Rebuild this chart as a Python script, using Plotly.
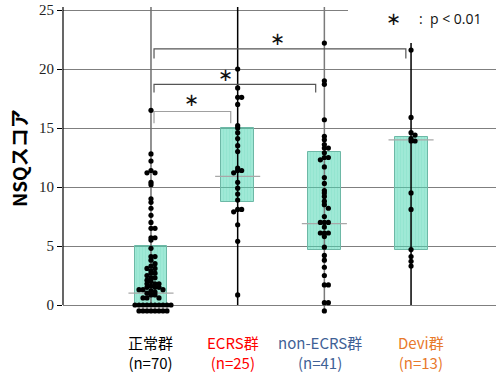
import plotly.graph_objects as go

# ---------------- data ----------------
categories = ["正常群", "ECRS群", "non-ECRS群", "Devi群"]
n_labels = ["(n=70)", "(n=25)", "(n=41)", "(n=13)"]
label_colors = ["#000000", "#FF0000", "#3F6196", "#E8792B"]

normal_vals = [16.5, 12.8, 12.2, 11.4, 11.2, 11.2, 10.4, 10.2, 9.0, 8.7, 8.2, 7.6, 7.0,
               6.5, 6.5, 5.7, 5.7, 5.5, 4.8, 4.1, 4.1, 3.8, 3.5, 3.3, 3.1, 3.1, 2.9, 2.7,
               2.7, 2.5, 2.3, 2.3, 2.0, 1.8, 1.8, 1.8, 1.6, 1.5, 1.5, 1.5, 1.3, 1.3, 1.3,
               1.1, 1.0, 0.85, 0.85, 0.6, 0.6, 0.6, 2.1, 1.2,
               0.0, 0.0, 0.0, 0.0, 0.0, 0.0, 0.0, 0.0, 0.0, 0.0,
               -0.5, -0.5, -0.5, -0.5, -0.5, -0.5, -0.5, -0.5]
ecrs_vals = [20.0, 18.4, 17.6, 17.6, 17.0, 15.2, 15.0, 14.6, 14.1, 13.5, 13.0, 11.6, 11.4,
             11.4, 11.2, 10.4, 9.9, 9.4, 8.9, 8.1, 8.1, 7.9, 6.8, 5.4, 0.85]
nonecrs_vals = [22.2, 19.0, 18.7, 15.7, 14.3, 14.0, 13.6, 13.3, 13.3, 12.9, 12.5, 12.5,
                12.3, 11.7, 10.8, 10.3, 9.7, 9.5, 9.2, 8.8, 8.5, 8.2, 7.5, 7.0, 7.0, 7.0,
                6.6, 6.1, 6.1, 6.1, 5.8, 4.9, 4.2, 3.8, 3.2, 2.5, 1.7, 1.7, 0.2, 0.2, -0.5]
devi_vals = [21.6, 15.9, 14.6, 14.4, 14.1, 13.9, 13.9, 9.5, 8.1, 4.7, 4.1, 3.7, 3.3]

box_q1 = [0.0, 8.7, 4.7, 4.7]
box_median = [1.0, 10.9, 6.9, 14.0]
box_q3 = [5.0, 15.0, 13.0, 14.2]
line_low = [0.0, 0.0, -0.5, 0.0]
line_high = [25.25, 25.25, 25.25, 22.2]
line_colors = ["#6e6e6e", "#000000", "#7a7a7a", "#000000"]

# significance brackets and stars
br_x0 = [1.035, 1.035, 1.035]
br_x1 = [1.92, 2.90, 3.94]
br_y = [16.4, 18.7, 21.7]
br_tick = [15.4, 18.0, 20.9]
br_colors = ["#a0a0a0", "#555555", "#555555"]
star_x = [1.47, 1.86, 2.46]
star_y = [17.4, 19.5, 22.6]

y_ticks = [0, 5, 10, 15, 20, 25]

# ---------------- geometry helpers ----------------
W, H = 496, 372
ML, MR, MT, MB = 63, 0, 7, 52
XR = [-0.015, 4.98]
YR = [-1.271, 25.254]
PW, PH = W - ML - MR, H - MT - MB
px_per_x = PW / (XR[1] - XR[0])
px_per_y = PH / (YR[1] - YR[0])


def swarm(vals, row_px=4.3, step=4.0):
    """Row-based dot-plot offsets: values in the same pixel row are spread sideways."""
    counts = {}
    offs = [0.0] * len(vals)
    order = sorted(range(len(vals)), key=lambda i: -vals[i])
    for i in order:
        r = round(vals[i] * px_per_y / row_px)
        c = counts.get(r, 0)
        counts[r] = c + 1
        k = (c + 1) // 2 * (1 if c % 2 == 1 else -1)
        offs[i] = k * step / px_per_x
    return offs


groups = [normal_vals, ecrs_vals, nonecrs_vals, devi_vals]

fig = go.Figure()

# boxes
fig.add_trace(go.Bar(
    x=[1, 2, 3, 4], base=box_q1,
    y=[q3 - q1 for q1, q3 in zip(box_q1, box_q3)],
    width=0.38,
    marker=dict(color="rgba(80,215,180,0.55)",
                line=dict(color="#6DB8A6", width=1),
                pattern=dict(shape="|", fgcolor="rgba(60,190,160,0.25)", size=3, solidity=0.3)),
    showlegend=False, hoverinfo="skip"))

# median lines
mx, my = [], []
for i, m in enumerate(box_median):
    mx += [i + 1 - 0.26, i + 1 + 0.26, None]
    my += [m, m, None]
fig.add_trace(go.Scatter(x=mx, y=my, mode="lines",
                         line=dict(color="#a8a8a8", width=1.2),
                         showlegend=False, hoverinfo="skip"))

# vertical lines
for i in range(4):
    fig.add_trace(go.Scatter(x=[i + 1, i + 1], y=[line_low[i], line_high[i]], mode="lines",
                             line=dict(color=line_colors[i], width=1.5),
                             showlegend=False, hoverinfo="skip"))

# brackets
for i in range(3):
    fig.add_trace(go.Scatter(
        x=[br_x0[i], br_x0[i], br_x1[i], br_x1[i]],
        y=[br_tick[i], br_y[i], br_y[i], br_tick[i]],
        mode="lines", line=dict(color=br_colors[i], width=1.2),
        showlegend=False, hoverinfo="skip"))
    fig.add_annotation(x=star_x[i], y=star_y[i], xref="x", yref="y", text="∗",
                       xanchor="center", yanchor="middle",
                       showarrow=False, font=dict(family="DejaVu Sans", size=18, color="#111"))

# points
for i, vals in enumerate(groups):
    offs = swarm(vals)
    fig.add_trace(go.Scatter(
        x=[i + 1 + o for o in offs], y=vals, mode="markers",
        marker=dict(color="#000000", size=5.2, line=dict(width=0)),
        showlegend=False, hoverinfo="skip"))

# white patch hiding top gridline on right
fig.add_shape(type="rect", xref="paper", yref="y",
              x0=(348 - ML) / PW, x1=1.0, y0=24.6, y1=YR[1],
              fillcolor="white", line=dict(width=0), layer="above")

# y-axis line
fig.add_shape(type="line", xref="paper", yref="y", x0=0, x1=0, y0=0, y1=YR[1],
              line=dict(color="#000", width=1.2), layer="above")

# legend text
fig.add_annotation(xref="paper", yref="paper",
                   x=(393 - ML) / PW, y=(H - MB - 18) / PH,
                   xanchor="center", yanchor="middle",
                   text="∗", showarrow=False,
                   font=dict(family="DejaVu Sans", size=18, color="#111"))
fig.add_annotation(xref="paper", yref="paper",
                   x=(417 - ML) / PW, y=(H - MB - 18) / PH,
                   xanchor="left", yanchor="middle", text=":  p &lt; 0.01", showarrow=False,
                   font=dict(family="Open Sans", size=14, color="#111"))

# category labels
label_x = [0.99, 1.95, 2.95, 4.12]
for i in range(4):
    fig.add_annotation(xref="x", yref="paper", x=label_x[i],
                       y=-(352.5 - (H - MB)) / PH, xanchor="center", yanchor="middle",
                       text=categories[i] + "<br>" + n_labels[i], showarrow=False,
                       font=dict(family="Noto Sans CJK JP", size=15, color=label_colors[i]))

# y-axis title
fig.add_annotation(xref="paper", yref="paper",
                   x=(18 - ML) / PW, y=(H - MB - 158) / PH,
                   xanchor="center", yanchor="middle",
                   text="<b>NSQスコア</b>", textangle=-90, showarrow=False,
                   font=dict(family="Noto Sans CJK JP", size=19, color="#000"))

fig.update_layout(
    width=W, height=H,
    margin=dict(l=ML, r=MR, t=MT, b=MB, pad=0, autoexpand=False),
    paper_bgcolor="white", plot_bgcolor="white",
    bargap=0,
    xaxis=dict(range=XR, showgrid=False, zeroline=False, showline=False,
               showticklabels=False, ticks="", automargin=False),
    yaxis=dict(range=YR, tickvals=y_ticks, showgrid=True, gridcolor="#7f7f7f", gridwidth=1,
               zeroline=False, showline=False, ticks="outside", ticklen=5,
               tickcolor="#000", tickwidth=1, automargin=False,
               tickfont=dict(family="Liberation Serif", size=15, color="#222")),
)

fig.write_html("out.html", config={"displayModeBar": False},
               post_script="document.body.style.margin='0';document.body.style.overflow='hidden';")
